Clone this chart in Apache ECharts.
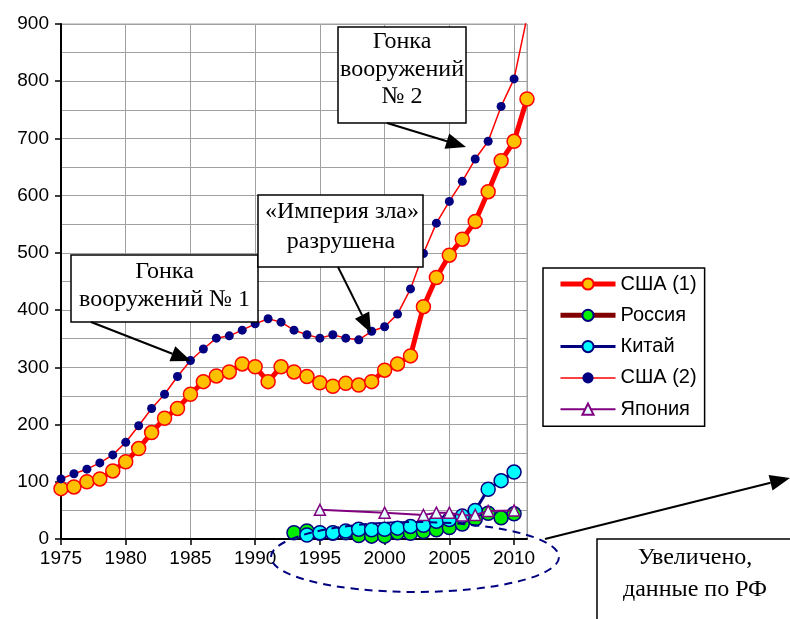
<!DOCTYPE html>
<html>
<head>
<meta charset="utf-8">
<script src="https://cdn.jsdelivr.net/npm/echarts@6/dist/echarts.min.js"></script>
<style>html,body{margin:0;padding:0;background:#fff;}#c{width:790px;height:619px;}</style>
</head>
<body>
<div id="c"></div>
<script>
// ---- data ----
const seriesNames = ['США (1)', 'Россия', 'Китай', 'США (2)', 'Япония'];
const xTicks = [1975, 1980, 1985, 1990, 1995, 2000, 2005, 2010];
const yTicks = [0, 100, 200, 300, 400, 500, 600, 700, 800, 900];

const usa1Start = 1975;
const usa1 = [88, 91, 100, 105, 119, 135, 158, 186, 211, 228, 253, 275, 285, 292, 306, 301, 275, 301, 292, 284,
  273, 267, 272, 269, 275, 295, 306, 320, 406, 457, 496, 524, 555, 607, 661, 695, 769];

const usa2Start = 1975;
const usa2 = [105, 114, 122, 133, 147, 169, 198, 228, 253, 284, 312, 332, 351, 355, 365, 376, 385, 379, 365, 357,
  351, 357, 351, 348, 363, 371, 393, 437, 499, 552, 590, 625, 664, 695, 756, 804, 912];

const russiaStart = 1993;
const russia = [11, 14, 10, 10, 11, 6, 5, 5, 11, 10, 13, 16, 20, 26, 35, 45, 37, 44];

const chinaStart = 1994;
const china = [7, 11, 11, 14, 17, 16, 17, 19, 22, 24, 31, 34, 40, 50, 87, 102, 117];

const japanYears = [1995, 2000, 2003, 2004, 2005, 2006, 2007, 2008, 2010];
const japan = [51, 46, 42, 46, 46, 41, 42, 49, 50];

// ---- build ----
const toPairs = (start, arr) => arr.map((v, i) => [start + i, v]);
const toPairsYears = (years, arr) => arr.map((v, i) => [years[i], v]);

const chart = echarts.init(document.getElementById('c'), null, {renderer: 'canvas'});

function arrow(x1, y1, x2, y2) {
  const L = 20, W = 8;
  const dx = x2 - x1, dy = y2 - y1, len = Math.sqrt(dx * dx + dy * dy);
  const ux = dx / len, uy = dy / len;
  const bx = x2 - ux * L, by = y2 - uy * L;
  const px = -uy, py = ux;
  return [
    {type: 'line', z: 100, shape: {x1: x1, y1: y1, x2: bx, y2: by}, style: {stroke: '#000', lineWidth: 2}},
    {type: 'polygon', z: 100, shape: {points: [[x2, y2], [bx + px * W, by + py * W], [bx - px * W, by - py * W]]},
      style: {fill: '#000'}}
  ];
}
function box(x, y, w, h) {
  return {type: 'rect', z: 99, shape: {x: x, y: y, width: w, height: h}, style: {fill: '#fff', stroke: '#000', lineWidth: 1.5}};
}
function txt(s, x, y) {
  return {type: 'text', z: 101, style: {text: s, x: x, y: y, font: '24px "Liberation Serif", "Times New Roman", serif',
    fill: '#000', textAlign: 'center', textVerticalAlign: 'middle'}};
}

const graphics = [].concat(
  [box(71, 255, 187, 67), txt('Гонка', 164.5, 272), txt('вооружений № 1', 164.5, 300)],
  arrow(91, 322, 191, 361),
  [box(258, 195, 165, 72), txt('«Империя зла»', 342, 212), txt('разрушена', 341, 242)],
  arrow(338, 267, 371, 333),
  [box(338, 27, 128, 96), txt('Гонка', 402, 42), txt('вооружений', 402, 70), txt('№ 2', 402, 97)],
  arrow(387, 123, 466, 147),
  [box(597, 539, 210, 100), txt('Увеличено,', 695, 558), txt('данные по РФ', 695, 590)],
  arrow(545, 539, 790, 478),
  [{type: 'ellipse', z: 98, shape: {cx: 415, cy: 557, rx: 144, ry: 35},
    style: {fill: 'none', stroke: '#000080', lineWidth: 2, lineDash: [8, 6]}}]
);

const option = {
  animation: false,
  backgroundColor: '#fff',
  textStyle: {fontFamily: '"Liberation Sans", Arial, sans-serif'},
  grid: {left: 61, top: 24, right: 263, bottom: 80, show: true, borderColor: '#a0a0a0', borderWidth: 1},
  legend: {
    orient: 'vertical', left: 543, top: 268,
    padding: [5, 8, 6, 15], itemGap: 9.3, itemWidth: 55, itemHeight: 14,
    borderColor: '#000', borderWidth: 1.5, backgroundColor: '#fff',
    textStyle: {fontSize: 20, color: '#000', lineHeight: 22, fontFamily: '"Liberation Sans", Arial, sans-serif'},
    data: [
      {name: seriesNames[0], lineStyle: {width: 5}},
      {name: seriesNames[1], lineStyle: {width: 5}},
      {name: seriesNames[2], lineStyle: {width: 3}},
      {name: seriesNames[3], lineStyle: {width: 1.5}},
      {name: seriesNames[4], lineStyle: {width: 2}}
    ]
  },
  xAxis: {
    type: 'value', min: 1975, max: 2011, interval: 5,
    axisLine: {lineStyle: {color: '#000', width: 2}},
    axisTick: {show: true, length: 6, inside: false, lineStyle: {color: '#000', width: 1.5}},
    axisLabel: {color: '#000', fontSize: 19, margin: 10, showMaxLabel: false,
      formatter: v => (xTicks.indexOf(v) >= 0 ? String(v) : '')},
    splitLine: {show: true, lineStyle: {color: '#a0a0a0', width: 1}}
  },
  yAxis: {
    type: 'value', min: 0, max: 900, interval: 100,
    axisLine: {show: true, lineStyle: {color: '#000', width: 2}},
    axisTick: {show: true, length: 6, lineStyle: {color: '#000', width: 1.5}},
    axisLabel: {color: '#000', fontSize: 19, margin: 12,
      formatter: v => (yTicks.indexOf(v) >= 0 ? String(v) : '')},
    splitLine: {show: true, lineStyle: {color: '#a0a0a0', width: 1}},
    minorTick: {show: false, splitNumber: 2},
    minorSplitLine: {show: true, lineStyle: {color: '#a0a0a0', width: 1}}
  },
  series: [
    {name: 'США (1)', type: 'line', data: toPairs(usa1Start, usa1), clip: true,
      lineStyle: {color: '#ff0000', width: 5}, symbol: 'circle', symbolSize: 14,
      itemStyle: {color: '#ffc000', borderColor: '#ff0000', borderWidth: 1.5}, z: 3},
    {name: 'Россия', type: 'line', data: toPairs(russiaStart, russia), clip: true,
      lineStyle: {color: '#800000', width: 5}, symbol: 'circle', symbolSize: 14,
      itemStyle: {color: '#00ee00', borderColor: '#000080', borderWidth: 1.5}, z: 4},
    {name: 'Китай', type: 'line', data: toPairs(chinaStart, china), clip: true,
      lineStyle: {color: '#000080', width: 3}, symbol: 'circle', symbolSize: 14,
      itemStyle: {color: '#00ffff', borderColor: '#000080', borderWidth: 1.5}, z: 5},
    {name: 'США (2)', type: 'line', data: toPairs(usa2Start, usa2), clip: true,
      lineStyle: {color: '#ff0000', width: 1.5}, symbol: 'circle', symbolSize: 9,
      itemStyle: {color: '#000080', borderWidth: 0}, z: 6},
    {name: 'Япония', type: 'line', data: toPairsYears(japanYears, japan), clip: true, connectNulls: true,
      lineStyle: {color: '#800080', width: 2}, symbol: 'triangle', symbolSize: 11,
      itemStyle: {color: '#e6ffff', borderColor: '#800080', borderWidth: 1.5}, z: 7}
  ],
  graphic: graphics
};
chart.setOption(option);
</script>
</body>
</html>
